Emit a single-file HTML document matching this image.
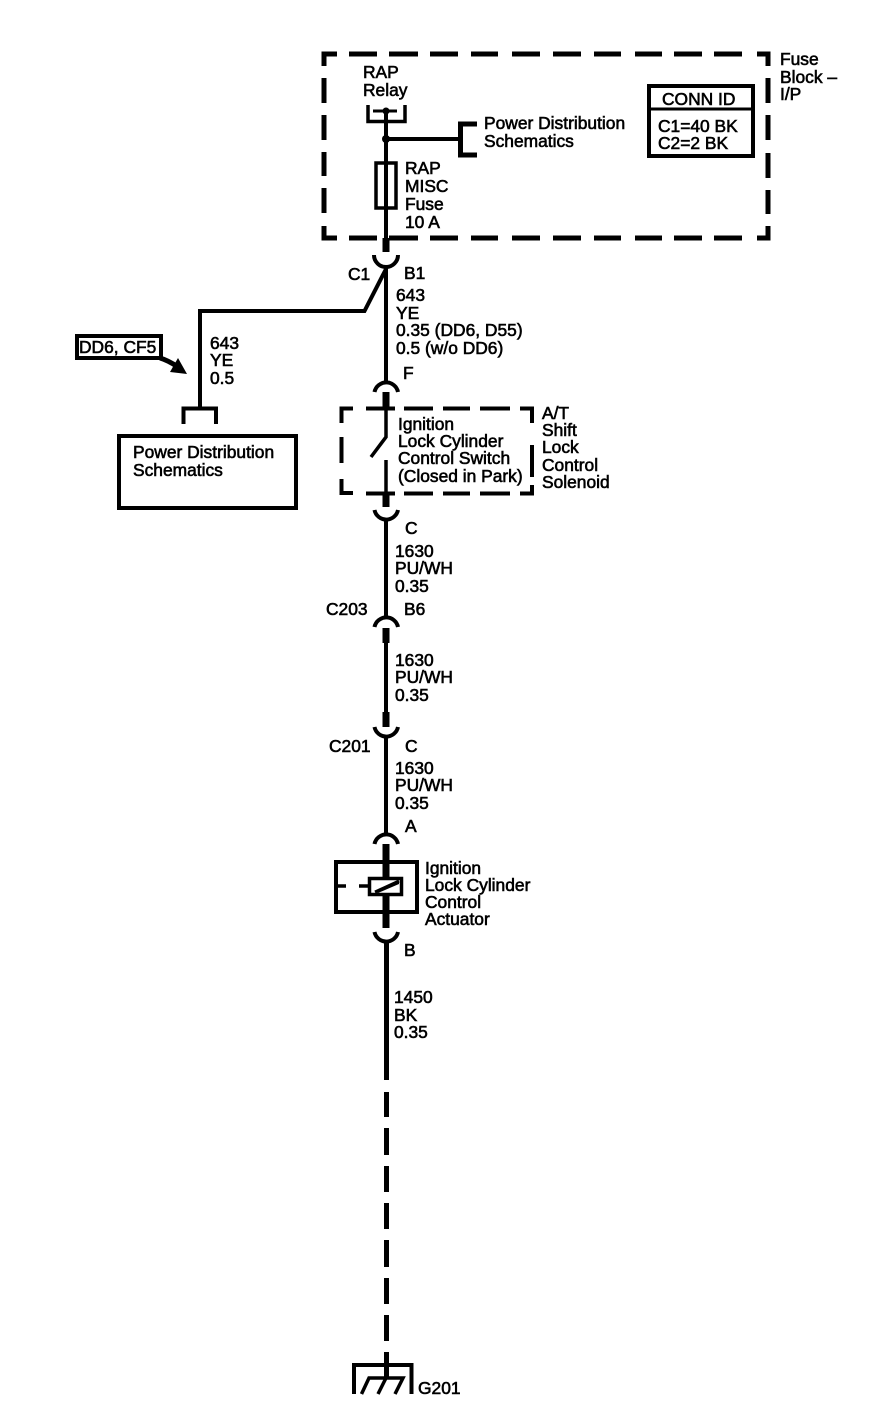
<!DOCTYPE html>
<html><head><meta charset="utf-8"><style>
html,body{margin:0;padding:0;background:#fff}
svg{display:block}
text{font-family:"Liberation Sans",sans-serif;font-size:17.4px;fill:#000;stroke:#000;stroke-width:.6}
</style></head><body>
<svg width="880" height="1426" viewBox="0 0 880 1426" xmlns="http://www.w3.org/2000/svg">
<g fill="none" stroke="#000" stroke-width="4">
<!-- Fuse block dashed box -->
<path stroke-width="5" d="M337 54H324V66M349 54H377M389 54H418M430 54H458M471 54H498M512 54H540M553 54H581M594 54H621M635 54H662M674 54H702M714 54H742M757 54H768V66
M324 78V103M324 115V140M324 152V176M324 188V213M324 226V238H337
M768 78V103M768 115V140M768 153V178M768 190V214M768 226V238H757
M349 238H377M389 238H418M430 238H458M471 238H498M512 238H540M553 238H581M594 238H621M635 238H662M674 238H702M714 238H742"/>
<!-- relay -->
<path d="M368 105V121.500H405V105" stroke-width="3.500"/>
<path d="M373 111H397" stroke-width="3"/>
<path d="M386 111V238"/>
<path d="M386 139H460"/>
<path d="M477 124H460.500V155H477" stroke-width="5"/>
<rect x="376" y="163" width="20" height="45" stroke-width="3.500"/>
<!-- main wire -->
<path d="M386 238V252" stroke-width="7"/>
<path d="M374 255A12 12 0 0 0 398 255"/>
<path d="M386 267V381"/>
<path d="M386 269L364.500 311H200V407" stroke-linejoin="miter"/>
<path d="M183.500 424V408.500H216V424" stroke-width="4"/>
<rect x="119" y="436" width="177" height="72" stroke-width="4"/>
<!-- DD6 -->
<rect x="77" y="336" width="84" height="22" stroke-width="4"/>
<path d="M160 358C167 360 172 363 178 367" stroke-width="5"/>
<path d="M374.500 392A12 12 0 0 1 398 392"/>
<!-- switch -->
<path d="M386 392V408" stroke-width="7"/>
<path d="M386 408V437L371 457" stroke-width="3.500"/>
<path d="M386 460V493" stroke-width="3.500"/>
<path d="M386 493V507" stroke-width="7"/>
<path stroke-width="4" d="M353 408.500H341.500V423M341.500 437V463M341.500 479V493H353M366 408.500H395M404 408.500H433M443 408.500H470M480 408.500H510M520 408.500H532V423M532 445V477M532 485V493.500H520M366 493.500H395M404 493.500H433M443 493.500H470M480 493.500H510"/>
<path d="M374.500 510A12 12 0 0 0 398 510"/>
<path d="M386 521V616"/>
<path d="M374.500 627A12 12 0 0 1 398 627"/>
<path d="M386 628V643" stroke-width="7"/>
<path d="M386 643V712"/>
<path d="M386 712V727" stroke-width="7"/>
<path d="M374.500 727A12 12 0 0 0 398 727"/>
<path d="M386 738V833"/>
<path d="M374.500 844A12 12 0 0 1 398 844"/>
<path d="M386 844V928" stroke-width="7"/>
<rect x="336" y="862" width="81" height="50" stroke-width="4"/>
<path d="M336 886H346M359 886H369" stroke-width="3.500"/>
<rect x="369.500" y="878.500" width="32" height="16" fill="#fff" stroke-width="3.500"/>
<path d="M375 892L399 881" stroke-width="3"/>
<path d="M374.500 932A12 12 0 0 0 398 932"/>
<path d="M386.500 943V1080M386.500 1092V1117M386.500 1128V1155M386.500 1166V1192M386.500 1203V1229M386.500 1240V1267M386.500 1278V1304M386.500 1315V1341M386.500 1352V1378" stroke-width="5"/>
<!-- ground -->
<path d="M354 1394V1365H411.500V1394" stroke-width="4"/>
<path d="M361.500 1394L369 1378H403L395 1394M378 1394L386 1378" stroke-width="3.500"/>
<!-- conn id -->
<rect x="649" y="86" width="104" height="70" stroke-width="4"/>
<path d="M649 109H753" stroke-width="3"/>
</g>
<circle cx="386" cy="111" r="3.500"/><circle cx="386" cy="139" r="4"/>
<polygon points="187,374 170,372 178,358"/>
<polygon points="375,892 399,881 399,884 378,893"/>

<text x="363" y="78">RAP</text><text x="363" y="96">Relay</text>
<text x="484" y="129">Power Distribution</text><text x="484" y="147">Schematics</text>
<text x="405" y="174">RAP</text><text x="405" y="192">MISC</text><text x="405" y="210">Fuse</text><text x="405" y="228">10 A</text>
<text x="780" y="65">Fuse</text><text x="780" y="83">Block –</text><text x="780" y="100">I/P</text>
<text x="662" y="105">CONN ID</text><text x="658" y="132">C1=40 BK</text><text x="658" y="149">C2=2 BK</text>
<text x="348" y="280">C1</text><text x="404" y="279">B1</text>
<text x="396" y="301">643</text><text x="396" y="319">YE</text><text x="396" y="336">0.35 (DD6, D55)</text><text x="396" y="354">0.5 (w/o DD6)</text>
<text x="403" y="379">F</text>
<text x="79" y="353">DD6, CF5</text>
<text x="210" y="349">643</text><text x="210" y="366">YE</text><text x="210" y="384">0.5</text>
<text x="133" y="458">Power Distribution</text><text x="133" y="476">Schematics</text>
<text x="398" y="430">Ignition</text><text x="398" y="447">Lock Cylinder</text><text x="398" y="464">Control Switch</text><text x="398" y="482">(Closed in Park)</text>
<text x="542" y="419">A/T</text><text x="542" y="436">Shift</text><text x="542" y="453">Lock</text><text x="542" y="471">Control</text><text x="542" y="488">Solenoid</text>
<text x="405" y="534">C</text>
<text x="395" y="557">1630</text><text x="395" y="574">PU/WH</text><text x="395" y="592">0.35</text>
<text x="326" y="615">C203</text><text x="404" y="615">B6</text>
<text x="395" y="666">1630</text><text x="395" y="683">PU/WH</text><text x="395" y="701">0.35</text>
<text x="329" y="752">C201</text><text x="405" y="752">C</text>
<text x="395" y="774">1630</text><text x="395" y="791">PU/WH</text><text x="395" y="809">0.35</text>
<text x="405" y="832">A</text>
<text x="425" y="874">Ignition</text><text x="425" y="891">Lock Cylinder</text><text x="425" y="908">Control</text><text x="425" y="925">Actuator</text>
<text x="404" y="956">B</text>
<text x="394" y="1003">1450</text><text x="394" y="1021">BK</text><text x="394" y="1038">0.35</text>
<text x="418" y="1394">G201</text>
</svg>
</body></html>
